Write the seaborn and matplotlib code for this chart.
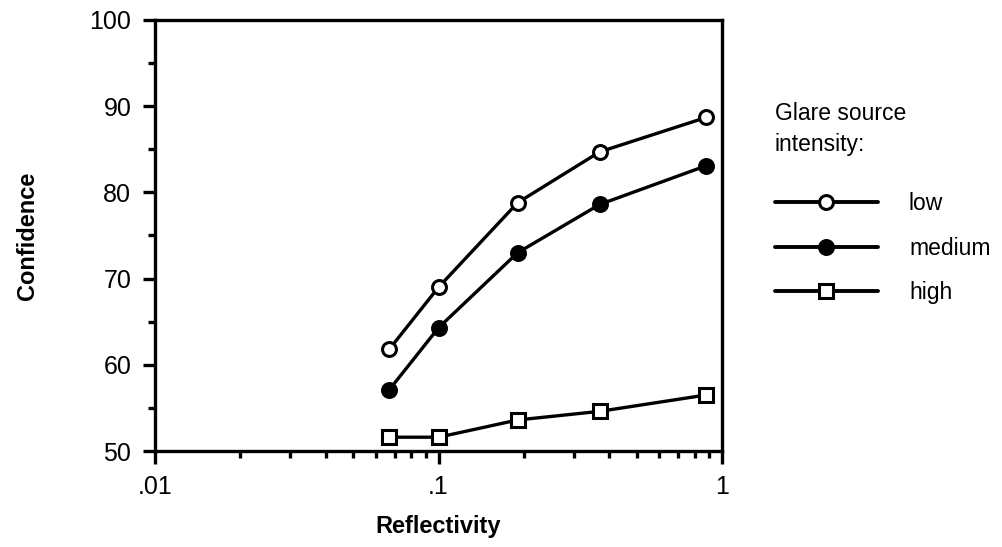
import numpy as np
import pandas as pd
import matplotlib
matplotlib.use("Agg")
import matplotlib.pyplot as plt
from matplotlib.ticker import FixedLocator, LogLocator, NullFormatter, MultipleLocator
import seaborn as sns

# values
reflectivity = [0.067, 0.1, 0.19, 0.37, 0.88]
conf_low = [61.8, 69.0, 78.8, 84.7, 88.7]
conf_medium = [57.1, 64.3, 73.0, 78.6, 83.1]
conf_high = [51.6, 51.6, 53.6, 54.6, 56.5]
intensity_labels = ["low", "medium", "high"]
x_ticks = [0.01, 0.1, 1]
x_tick_labels = [".01", ".1", "1"]
y_ticks = [50, 60, 70, 80, 90, 100]

sns.set_theme(style="ticks")
plt.rcParams["font.family"] = ["Liberation Sans", "DejaVu Sans"]
plt.rcParams["text.color"] = "black"

fig = plt.figure(figsize=(10.03, 5.47), dpi=100)
ax = fig.add_axes([0.1545, 0.1755, 0.5655, 0.788])

styles = {
    "low": dict(marker="o", markerfacecolor="white"),
    "medium": dict(marker="o", markerfacecolor="black"),
    "high": dict(marker="s", markerfacecolor="white"),
}
series = {"low": conf_low, "medium": conf_medium, "high": conf_high}

for name in intensity_labels:
    df = pd.DataFrame({"Reflectivity": reflectivity, "Confidence": series[name]})
    sns.lineplot(data=df, x="Reflectivity", y="Confidence", ax=ax, color="black",
                 linewidth=2.4, markersize=10, markeredgewidth=2.2,
                 markeredgecolor="black", label=name, **styles[name])

ax.set_xscale("log")
ax.set_xlim(0.01, 1)
ax.set_ylim(50, 100)
ax.xaxis.set_major_locator(FixedLocator(x_ticks))
ax.set_xticklabels(x_tick_labels)
ax.xaxis.set_minor_locator(LogLocator(base=10, subs=np.arange(2, 10)))
ax.xaxis.set_minor_formatter(NullFormatter())
ax.set_yticks(y_ticks)
ax.yaxis.set_minor_locator(MultipleLocator(5))

for s in ax.spines.values():
    s.set_linewidth(2.4)
    s.set_color("black")
ax.tick_params(which="major", direction="out", length=9, width=2.4, labelsize=18,
               colors="black", pad=8)
ax.tick_params(which="minor", direction="out", length=5, width=2.4, colors="black")

ax.set_xlabel("Reflectivity", fontsize=17, fontweight="bold", labelpad=12, color="black")
ax.set_ylabel("Confidence", fontsize=17, fontweight="bold", labelpad=36, color="black")

leg = ax.legend(title="Glare source\nintensity:", loc="upper left",
                bbox_to_anchor=(0.752, 0.852), bbox_transform=fig.transFigure,
                frameon=False, handlelength=4.5, handletextpad=1.35,
                labelspacing=0.95, fontsize=16.5, title_fontsize=16.5,
                alignment="left")
leg.get_title().set_linespacing(1.45)
leg.get_title().set_color("black")
leg._legend_box.sep = 26
for t in leg.get_texts():
    t.set_color("black")
for line in leg.get_lines():
    line.set_linewidth(2.8)

fig.savefig("out.png", dpi=100, facecolor="white")
